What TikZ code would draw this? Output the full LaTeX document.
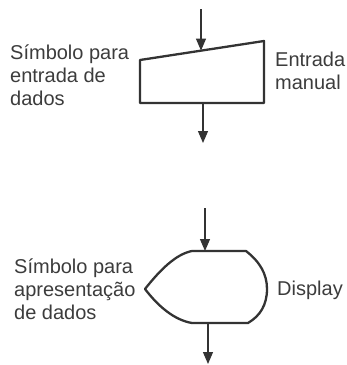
\documentclass[tikz,border=0pt]{standalone}
\usepackage{fontspec}
\setmainfont{Liberation Sans}
\usetikzlibrary{arrows.meta}
\definecolor{ink}{HTML}{333333}
\definecolor{txt}{HTML}{3C3C3C}
\begin{document}
\begin{tikzpicture}[x=1pt,y=-1pt,
  shapeline/.style={draw=ink,line width=2.3pt,line join=round},
  flow/.style={draw=ink,line width=1.3pt,-{Triangle[length=12pt,width=10pt]}},
  label/.style={anchor=west,inner sep=0pt,align=left,text=txt,font=\fontsize{20}{23}\selectfont}]
\useasboundingbox (0,0) rectangle (347,365);
% manual input
\draw[shapeline] (140,60) coordinate (mtl) -- (264,41) coordinate (mtr) -- (264,103) coordinate (mbr) -- (140,103) coordinate (mbl) -- cycle;
\coordinate (a1s) at (201,9);
\coordinate (a1e) at (201,50.6);
\coordinate (a2s) at (203,103);
\coordinate (a2e) at (203,143);
\draw[flow] (a1s) -- (a1e);
\draw[flow] (a2s) -- (a2e);
\node[label] (t1) at (10,75) {Símbolo para\\entrada de\\dados};
\node[label] (t2) at (275,71) {Entrada\\manual};
% display
\draw[shapeline] (145,289) coordinate (dl)
  .. controls (160,270) and (176,254) .. (192,251) coordinate (dtl)
  -- (246,251) coordinate (dtr)
  .. controls (260,262) and (267,274) .. (267,289)
  .. controls (267,305) and (260,316) .. (248,323) coordinate (dbr)
  -- (192,323) coordinate (dbl)
  .. controls (174,320) and (158,306) .. cycle;
\coordinate (b1s) at (205,208);
\coordinate (b1e) at (205,251);
\coordinate (b2s) at (208,323);
\coordinate (b2e) at (208,364);
\draw[flow] (b1s) -- (b1e);
\draw[flow] (b2s) -- (b2e);
\node[label] (t3) at (14,289) {Símbolo para\\apresentação\\de dados};
\node[label] (t4) at (277,290) {Display};
\end{tikzpicture}
\end{document}
